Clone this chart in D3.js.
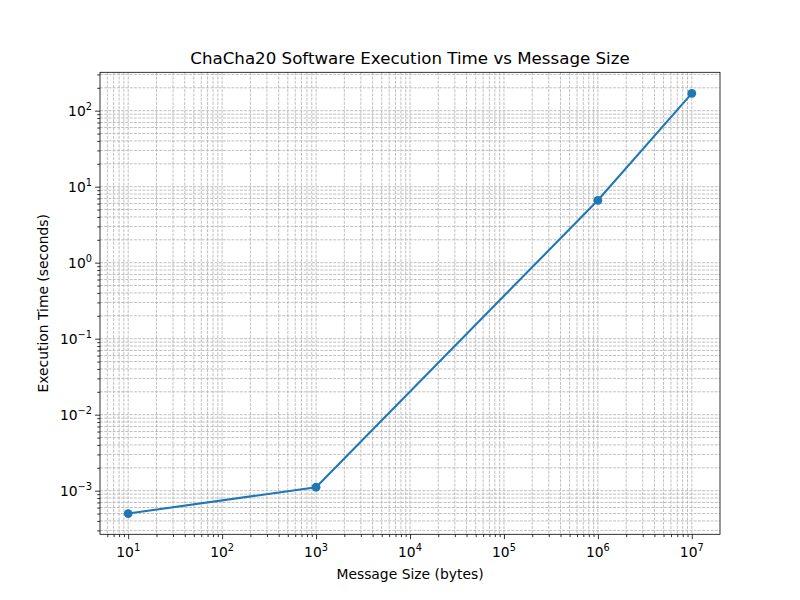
<!DOCTYPE html>
<html>
<head>
<meta charset="utf-8">
<script src="https://cdn.jsdelivr.net/npm/d3@7"></script>
<style>
  body { margin: 0; background: #fff; }
  text { font-family: "DejaVu Sans", sans-serif; fill: #000; }
</style>
</head>
<body>
<script>
const sizes = [10, 1000, 1000000, 10000000];
const times = [0.0005, 0.00111, 6.62, 169];
const xMajor = [1, 2, 3, 4, 5, 6, 7];
const yMajor = [-3, -2, -1, 0, 1, 2];

const width = 800, height = 600;
const margin = {left: 100, right: 80, top: 72.3, bottom: 65.7};

const svg = d3.select('body').append('svg')
    .attr('width', width)
    .attr('height', height);

const x = d3.scaleLog()
    .domain([Math.pow(10, 0.7), Math.pow(10, 7.3)])
    .range([margin.left, width - margin.right]);

const y = d3.scaleLog()
    .domain([Math.pow(10, -3.574), Math.pow(10, 2.505)])
    .range([height - margin.bottom, margin.top]);

// minor tick values in view
function minors(scale, lo, hi) {
    let out = [];
    for (let e = lo; e <= hi; e++) {
        for (let m = 2; m <= 9; m++) {
            let v = m * Math.pow(10, e);
            let d = scale.domain();
            if (v >= d[0] && v <= d[1]) out.push(v);
        }
    }
    return out;
}
const xMinor = minors(x, 0, 7);
const yMinor = minors(y, -4, 2);
const xMaj = xMajor.map(e => Math.pow(10, e));
const yMaj = yMajor.map(e => Math.pow(10, e));

const grid = svg.append('g')
    .attr('stroke', '#b0b0b0')
    .attr('stroke-width', 0.8)
    .attr('stroke-dasharray', '2.96,1.28');

grid.selectAll('.gx')
    .data(xMaj.concat(xMinor))
    .enter().append('line')
    .attr('x1', d => x(d)).attr('x2', d => x(d))
    .attr('y1', margin.top).attr('y2', height - margin.bottom);

grid.selectAll('.gy')
    .data(yMaj.concat(yMinor))
    .enter().append('line')
    .attr('y1', d => y(d)).attr('y2', d => y(d))
    .attr('x1', margin.left).attr('x2', width - margin.right);

// axes
svg.append('g')
    .attr('transform', 'translate(0,' + (height - margin.bottom) + ')')
    .call(d3.axisBottom(x).tickValues(xMaj).tickFormat('').tickSize(4.86).tickSizeOuter(0));
svg.append('g')
    .attr('transform', 'translate(0,' + (height - margin.bottom) + ')')
    .call(d3.axisBottom(x).tickValues(xMinor).tickFormat('').tickSize(2.78).tickSizeOuter(0));
svg.append('g')
    .attr('transform', 'translate(' + margin.left + ',0)')
    .call(d3.axisLeft(y).tickValues(yMaj).tickFormat('').tickSize(4.86).tickSizeOuter(0));
svg.append('g')
    .attr('transform', 'translate(' + margin.left + ',0)')
    .call(d3.axisLeft(y).tickValues(yMinor).tickFormat('').tickSize(2.78).tickSizeOuter(0));

svg.selectAll('.domain').remove();
svg.selectAll('.tick line').attr('stroke', '#000').attr('stroke-width', 0.8);

// tick labels as 10^n
function powLabel(sel, e) {
    sel.append('tspan').text('10').attr('font-size', 13.89);
    sel.append('tspan').text(e < 0 ? '\u2212' + (-e) : e)
        .attr('font-size', 9.8)
        .attr('dy', -6);
}

xMajor.forEach(e => {
    let t = svg.append('text')
        .attr('x', x(Math.pow(10, e)))
        .attr('y', height - margin.bottom + 22.5)
        .attr('text-anchor', 'middle');
    powLabel(t, e);
});

yMajor.forEach(e => {
    let t = svg.append('text')
        .attr('x', margin.left - 8)
        .attr('y', y(Math.pow(10, e)) + 5)
        .attr('text-anchor', 'end');
    powLabel(t, e);
});

// frame
svg.append('rect')
    .attr('x', margin.left).attr('y', margin.top)
    .attr('width', width - margin.left - margin.right)
    .attr('height', height - margin.top - margin.bottom)
    .attr('fill', 'none').attr('stroke', '#000').attr('stroke-width', 0.8);

// data
const pts = sizes.map((s, i) => ({s: s, t: times[i]}));
const line = d3.line().x(d => x(d.s)).y(d => y(d.t));

svg.append('path')
    .datum(pts)
    .attr('d', line)
    .attr('fill', 'none')
    .attr('stroke', '#1f77b4')
    .attr('stroke-width', 2.08);

svg.selectAll('.pt')
    .data(pts)
    .enter().append('circle')
    .attr('cx', d => x(d.s))
    .attr('cy', d => y(d.t))
    .attr('r', 4.4)
    .attr('fill', '#1f77b4');

// titles
svg.append('text')
    .attr('x', (margin.left + width - margin.right) / 2)
    .attr('y', margin.top - 8)
    .attr('text-anchor', 'middle')
    .attr('font-size', 16.67)
    .text('ChaCha20 Software Execution Time vs Message Size');

svg.append('text')
    .attr('x', (margin.left + width - margin.right) / 2)
    .attr('y', height - 21)
    .attr('text-anchor', 'middle')
    .attr('font-size', 13.89)
    .text('Message Size (bytes)');

svg.append('text')
    .attr('transform', 'translate(48,' + ((margin.top + height - margin.bottom) / 2) + ') rotate(-90)')
    .attr('text-anchor', 'middle')
    .attr('font-size', 13.89)
    .text('Execution Time (seconds)');
</script>
</body>
</html>
